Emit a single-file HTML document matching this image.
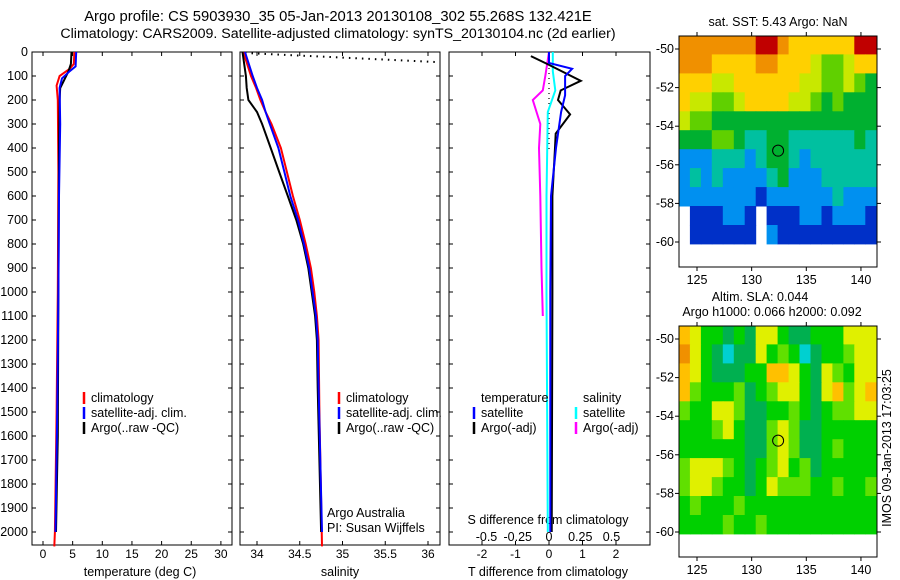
<!DOCTYPE html>
<html><head><meta charset="utf-8"><style>
body{margin:0;background:#fff;}
svg{display:block;font-family:"Liberation Sans",sans-serif;}
</style></head><body>
<svg id="fig" width="900" height="580" viewBox="0 0 900 580"></svg>
<script>
// ---- data ----
const depthTicks=[0,100,200,300,400,500,600,700,800,900,1000,1100,1200,1300,1400,1500,1600,1700,1800,1900,2000];
const tTicks=[0,5,10,15,20,25,30];
const sTicks=[34,34.5,35,35.5,36];
const tdTicks=[-2,-1,0,1,2];
const sdTicks=[-0.5,-0.25,0,0.25,0.5];
const latTicks=[-50,-52,-54,-56,-58,-60];
const lonTicks=[125,130,135,140];

const tClimD=[0,50,70,100,140,200,500,1000,1500,2000,2060];
const tClimV=[5.3,5.2,4.5,2.8,2.3,2.5,2.6,2.5,2.3,2.0,1.9];
const tArgoD=[0,50,80,120,150,200,400,1000,1600,2000];
const tArgoV=[4.8,4.7,4.3,3.5,2.9,2.8,2.7,2.6,2.5,2.2];
const tSatD=[0,60,80,110,150,300,600,1000,1500,2000];
const tSatV=[5.6,5.5,4.5,3.2,2.8,2.9,2.7,2.6,2.4,2.1];

const sClimD=[0,100,150,200,250,300,400,500,600,700,800,900,1000,1100,1200,1500,2060];
const sClimV=[33.84,33.93,33.99,34.04,34.1,34.17,34.28,34.35,34.42,34.5,34.57,34.63,34.67,34.7,34.72,34.73,34.76];
const sSatD=[0,100,150,200,250,300,400,500,600,700,800,900,1000,1100,1200,1400,2000];
const sSatV=[33.86,33.95,34.0,34.06,34.1,34.15,34.25,34.32,34.39,34.48,34.55,34.61,34.65,34.69,34.71,34.72,34.76];
const sArgoD=[0,100,150,200,250,300,400,500,600,700,800,900,1000,1100,1200,1400,2000];
const sArgoV=[33.83,33.87,33.88,33.9,34.0,34.06,34.16,34.26,34.36,34.46,34.54,34.6,34.64,34.68,34.7,34.71,34.75];

const tdSatD=[0,46,70,100,180,250,400,600,1000,2000];
const tdSatV=[0,0,0.69,0.48,0.48,0.36,0.21,0.06,0.04,0.04];
const tdArgoD=[17,50,120,160,200,260,340,400,600,1000,2000];
const tdArgoV=[-0.54,-0.05,0.95,0.35,0.27,0.63,0.2,0.18,0.1,0.1,0.08];
const sdSatD=[0,80,160,250,600,1000,2000];
const sdSatV=[0.03,0.03,0.05,-0.01,-0.02,-0.02,-0.01];
const sdArgoD=[0,100,160,200,300,400,600,900,1100];
const sdArgoV=[0,-0.03,-0.05,-0.13,-0.07,-0.08,-0.07,-0.06,-0.05];

const sstGrid=[
[7,7,7,7,7,7,7,8,8,7,6,6,6,6,6,6,8,8],
[7,7,7,6,6,6,6,7,7,6,6,6,5,4,4,5,6,6],
[6,6,6,5,5,6,6,6,6,6,6,5,5,4,4,5,4,3],
[6,5,5,4,4,5,6,6,6,6,5,5,4,3,4,3,3,3],
[5,4,4,3,3,3,3,3,3,3,3,3,3,3,3,3,3,3],
[3,3,3,4,4,3,2,2,3,3,2,2,2,2,2,2,3,2],
[1,1,1,2,2,2,1,2,3,3,2,1,2,2,2,2,2,2],
[1,2,1,2,1,1,1,1,2,3,1,1,1,2,2,2,2,2],
[1,1,1,1,1,1,1,0,1,1,1,1,1,1,2,1,1,1],
[-1,0,0,0,1,1,0,-1,0,0,0,1,1,0,1,1,1,0],
[-1,0,0,0,0,0,0,-1,1,0,0,0,0,0,0,0,0,0]];
const slaGrid=[
[5,4,2,2,1,2,1,4,4,2,1,1,2,2,2,4,4,4],
[6,4,2,1,0,1,1,4,2,3,2,0,1,2,2,3,4,4],
[5,4,2,1,1,1,2,2,5,5,4,2,1,4,3,2,4,4],
[5,3,2,2,2,3,1,2,3,4,4,2,1,4,5,3,4,5],
[3,2,2,4,4,3,1,1,2,2,3,2,1,2,3,3,4,4],
[2,2,2,3,4,2,1,1,3,4,3,1,1,2,2,2,2,2],
[2,2,2,2,2,2,1,1,3,4,3,1,1,2,3,2,2,2],
[3,4,4,4,3,2,1,2,3,4,2,3,1,2,2,2,2,2],
[3,4,4,3,2,2,1,2,4,3,3,3,2,2,3,2,2,3],
[2,3,2,2,2,3,2,2,2,2,2,2,2,2,2,2,2,2],
[2,2,2,2,3,2,2,3,2,2,2,2,2,2,2,2,2,2]];
const sstColors=["#0030c8","#0090f0","#00c0a0","#00b030","#60d000","#c8e800","#ffd000","#f09000","#c00000"];
const slaColors=["#00d0d0","#00b050","#00d000","#60e000","#e0f000","#ffc000","#f09000"];
const argoLon=132.421, argoLat=-55.268;

// ---- helpers ----
const NS="http://www.w3.org/2000/svg";
const svg=document.getElementById('fig');
function el(tag,attrs,parent){const e=document.createElementNS(NS,tag);for(const k in attrs)e.setAttribute(k,attrs[k]);(parent||svg).appendChild(e);return e;}
function txt(x,y,s,anchor,size,parent){const t=el('text',{x:x,y:y,'font-size':size||12,'text-anchor':anchor||'start',fill:'#000'},parent);t.textContent=s;return t;}
const yD=d=>52+d*0.24;
const BOT=545;

function panel(name,x0,x1){
  const g=el('g',{});
  
  
  el('rect',{x:x0,y:52,width:x1-x0,height:BOT-52,fill:'none',stroke:'#000','stroke-width':1},g);
  return g;
}
function line(g,D,V,xf,color,name,w){
  let p=D.map((d,i)=>xf(V[i]).toFixed(1)+','+yD(d).toFixed(1)).join(' ');
  const pl=el('polyline',{points:p,fill:'none',stroke:color,'stroke-width':w||2},g);
  
  
}
function xticks(g,ticks,xf,ylab,fmt){
  ticks.forEach(t=>{const x=xf(t);
    el('line',{x1:x,y1:BOT,x2:x,y2:BOT-4,stroke:'#000'},g);
    el('line',{x1:x,y1:52,x2:x,y2:56,stroke:'#000'},g);
    if(ylab)txt(x,ylab,fmt?fmt(t):String(t),'middle',12,g);});
}

// titles
const t1=txt(338,21,"Argo profile: CS 5903930_35 05-Jan-2013 20130108_302 55.268S 132.421E",'middle',14.8);

const t2=txt(338,38,"Climatology: CARS2009. Satellite-adjusted climatology: synTS_20130104.nc (2d earlier)",'middle',14.2);


// depth axis labels
const yax=el('g',{});

depthTicks.forEach(d=>{txt(28,yD(d)+4,String(d),'end',12.5,yax);});

// ---- panel 1: temperature ----
const xT=v=>43+v*5.93;
const p1=panel('temperature-panel',32,232);
depthTicks.forEach(d=>{el('line',{x1:32,y1:yD(d),x2:36,y2:yD(d),stroke:'#000'},p1);el('line',{x1:228,y1:yD(d),x2:232,y2:yD(d),stroke:'#000'},p1);});
xticks(p1,tTicks,xT,558);
txt(140,576,"temperature (deg C)",'middle',12.5,p1);
line(p1,tClimD,tClimV,xT,'#f00','temp-climatology-line');
line(p1,tArgoD,tArgoV,xT,'#000','temp-argo-line');
line(p1,tSatD,tSatV,xT,'#00f','temp-satellite-line');
function legend(g,x,y,rows){rows.forEach((r,i)=>{const gy=y+i*15;
  const lg=el('g',{},g);
  el('line',{x1:x,y1:gy-10,x2:x,y2:gy+2,stroke:r[1],'stroke-width':2.5},lg);txt(x+7,gy,r[0],'start',12.5,lg);});}
legend(p1,84,402,[["climatology","#f00"],["satellite-adj. clim.","#00f"],["Argo(..raw -QC)","#000"]]);

// ---- panel 2: salinity ----
const xS=v=>257+(v-34)*85.5;
const p2=panel('salinity-panel',240,440);
depthTicks.forEach(d=>{el('line',{x1:240,y1:yD(d),x2:244,y2:yD(d),stroke:'#000'},p2);el('line',{x1:436,y1:yD(d),x2:440,y2:yD(d),stroke:'#000'},p2);});
xticks(p2,sTicks,xS,558);
txt(340,576,"salinity",'middle',12.5,p2);
const dot=el('line',{x1:245,y1:53,x2:436,y2:62,stroke:'#000','stroke-width':2,'stroke-dasharray':'1.5,5'},p2);

line(p2,sClimD,sClimV,xS,'#f00','sal-climatology-line');
line(p2,sArgoD,sArgoV,xS,'#000','sal-argo-line');
line(p2,sSatD,sSatV,xS,'#00f','sal-satellite-line');
legend(p2,339,402,[["climatology","#f00"],["satellite-adj. clim.","#00f"],["Argo(..raw -QC)","#000"]]);
txt(327,517,"Argo Australia",'start',12.5,p2);
txt(327,532,"PI: Susan Wijffels",'start',12.5,p2);

// ---- panel 3: differences ----
const xTD=v=>549+v*33.5;
const xSD=v=>549+v*125;
const p3=panel('difference-panel',449,650);
depthTicks.forEach(d=>{el('line',{x1:449,y1:yD(d),x2:453,y2:yD(d),stroke:'#000'},p3);el('line',{x1:646,y1:yD(d),x2:650,y2:yD(d),stroke:'#000'},p3);});
xticks(p3,tdTicks,xTD,558);
sdTicks.forEach(t=>txt(xSD(t),541,String(t),'middle',12.5,p3));
txt(548,524,"S difference from climatology",'middle',12.5,p3);
txt(548,576,"T difference from climatology",'middle',12.5,p3);
el('line',{x1:549,y1:53,x2:549,y2:yD(420),stroke:'#000','stroke-width':1.2,'stroke-dasharray':'1,4'},p3);
line(p3,sdArgoD,sdArgoV,xSD,'#ff00ff','sdiff-argo-line');
line(p3,sdSatD,sdSatV,xSD,'#00ffff','sdiff-satellite-line');
line(p3,tdArgoD,tdArgoV,xTD,'#000','tdiff-argo-line');
line(p3,tdSatD,tdSatV,xTD,'#00f','tdiff-satellite-line');
txt(481,402,"temperature",'start',12.5,p3);
txt(583,402,"salinity",'start',12.5,p3);
legend(p3,474,417,[["satellite","#00f"],["Argo(-adj)","#000"]]);
legend(p3,576,417,[["satellite","#00ffff"],["Argo(-adj)","#ff00ff"]]);

// ---- maps ----
function map(name,top,grid,colors,titles){
  const g=el('g',{});
  
  const X0=679,X1=877,Y0=top,Y1=top+231;
  const xL=lon=>697+(lon-125)*10.93;
  const yL=lat=>Y0+13+(-50-lat)*19.3;
  const nr=grid.length,nc=grid[0].length;
  const lon0=123.35,lon1=141.4,lat0=-49.3,lat1=-60.1;
  const cw=(lon1-lon0)/nc, ch=(lat0-lat1)/nr;
  grid.forEach((row,i)=>row.forEach((v,j)=>{
    if(v<0)return;
    const x=xL(lon0+j*cw),y=yL(lat0-i*ch);
    const r=el('rect',{x:x.toFixed(1),y:y.toFixed(1),width:(xL(lon0+(j+1)*cw)-x+0.5).toFixed(1),height:(yL(lat0-(i+1)*ch)-y+0.5).toFixed(1),fill:colors[v]},g);
    
    
  }));
  el('rect',{x:X0,y:Y0,width:X1-X0,height:Y1-Y0,fill:'none',stroke:'#000'},g);
  latTicks.forEach(l=>{const y=yL(l);el('line',{x1:X0-4,y1:y,x2:X0,y2:y,stroke:'#000'},g);el('line',{x1:X1,y1:y,x2:X1+4,y2:y,stroke:'#000'},g);txt(X0-5,y+4,String(l),'end',12.5,g);});
  lonTicks.forEach(l=>{const x=xL(l);el('line',{x1:x,y1:Y1,x2:x,y2:Y1+4,stroke:'#000'},g);el('line',{x1:x,y1:Y0-4,x2:x,y2:Y0,stroke:'#000'},g);txt(x,Y1+17,String(l),'middle',12.5,g);});
  const c=el('circle',{cx:xL(argoLon),cy:yL(argoLat),r:5.5,fill:'none',stroke:'#000','stroke-width':1},g);
  
  titles.forEach(t=>txt(t[0],t[1],t[2],'middle',12.5,g));
}
map('sst-map',36,sstGrid,sstColors,[[778,26,"sat. SST: 5.43 Argo: NaN"]]);
map('sla-map',326,slaGrid,slaColors,[[760,301,"Altim. SLA: 0.044"],[772,316,"Argo h1000: 0.066 h2000: 0.092"]]);
const st=txt(0,0,"IMOS 09-Jan-2013 17:03:25",'middle',12.5);
st.setAttribute('transform','translate(891,448) rotate(-90)');

</script>
</body></html>
